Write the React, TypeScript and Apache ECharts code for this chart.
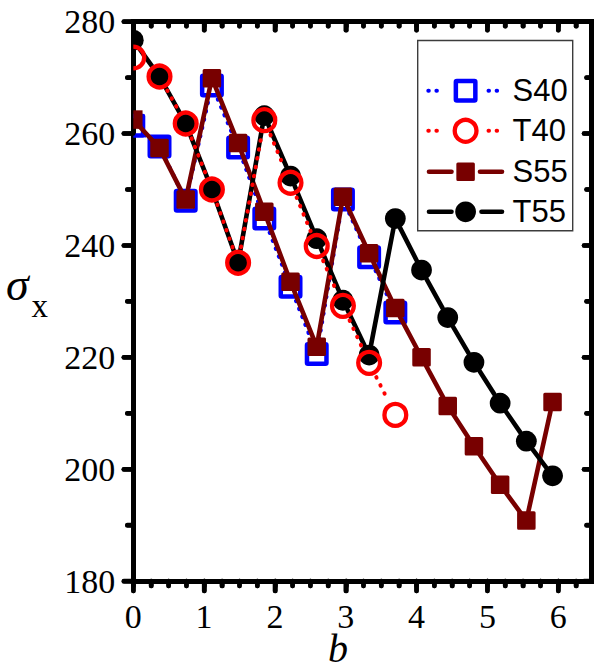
import React, { useEffect, useRef } from 'react';
import * as echarts from 'echarts';

// ---- data ----
const bValues = [0, 0.37, 0.74, 1.11, 1.48, 1.85, 2.22, 2.59, 2.96, 3.33, 3.7, 4.07, 4.44, 4.81, 5.18, 5.55, 5.92];
const s40 = [261.4, 257.7, 248.0, 268.6, 257.5, 244.8, 232.6, 220.6, 248.2, 237.9, 228.0];
const t40 = [273.6, 270.2, 261.8, 250.0, 236.9, 262.4, 251.2, 239.9, 229.2, 219.0, 209.7];
const s55 = [262.5, 257.4, 248.2, 269.9, 258.3, 246.0, 233.5, 221.9, 248.7, 238.6, 228.8, 220.0, 211.3, 204.1, 197.2, 190.8, 212.0];
const t55 = [276.7, 270.2, 261.8, 250.0, 236.9, 263.2, 252.4, 241.2, 230.2, 220.4, 244.8, 235.6, 227.1, 219.1, 211.8, 205.0, 198.8];

// ---- axes / ticks ----
const yMin = 180;
const yMax = 280;
const yStep = 20;
const xMin = 0;
const xMax = 6.47;
const xLabelStep = 1;
const xLabelLast = 6;
const xMinorStep = 0.25;
const xMinorLast = 6.25;
const xMajorTicks = [0, 1, 2, 3, 4, 5, 6];
const xMinorTicks = [0.25, 0.5, 0.75, 1.25, 1.5, 1.75, 2.25, 2.5, 2.75, 3.25, 3.5, 3.75, 4.25, 4.5, 4.75, 5.25, 5.5, 5.75, 6.25];
const yMajorTicks = [180, 200, 220, 240, 260, 280];
const yMinorTicks = [190, 210, 230, 250, 270];

const legendNames = ['S40', 'T40', 'S55', 'T55'];

type Cfg = {
  name: string;
  color: string;
  lineWidth: number;
  dash: number[] | null;
  gap: number;
  symbol: 'rectHollow' | 'rectFilled' | 'circleHollow' | 'circleFilled';
};

const cfgs: Record<string, Cfg> = {
  S40: { name: 'S40', color: '#0000ff', lineWidth: 4, dash: [0.5, 8], gap: 15, symbol: 'rectHollow' },
  S55: { name: 'S55', color: '#780000', lineWidth: 4.6, dash: null, gap: 12, symbol: 'rectFilled' },
  T55: { name: 'T55', color: '#000000', lineWidth: 4.6, dash: null, gap: 13, symbol: 'circleFilled' },
  T40: { name: 'T40', color: '#ff0000', lineWidth: 4, dash: [0.5, 8.5], gap: 16, symbol: 'circleHollow' },
};

function buildItems(ys: number[]) {
  return ys.map((y, i) => {
    const last = i + 1 >= ys.length;
    return [bValues[i], y, last ? bValues[i] : bValues[i + 1], last ? y : ys[i + 1]];
  });
}

// full symbol, or only its right half when it sits on the left frame line
function symbolEl(kind: Cfg['symbol'], color: string, cx: number, cy: number, half = false): any {
  if (kind === 'rectHollow') {
    const s = 19.5;
    if (half) {
      return { type: 'polyline', shape: { points: [[cx, cy - s / 2], [cx + s / 2, cy - s / 2], [cx + s / 2, cy + s / 2], [cx, cy + s / 2]] }, style: { fill: null, stroke: color, lineWidth: 4.5, lineJoin: 'round' } };
    }
    return { type: 'rect', shape: { x: cx - s / 2, y: cy - s / 2, width: s, height: s, r: 1 }, style: { fill: 'none', stroke: color, lineWidth: 4.5, lineJoin: 'round' } };
  }
  if (kind === 'rectFilled') {
    const s = 18.5;
    if (half) {
      return { type: 'rect', shape: { x: cx, y: cy - s / 2, width: s / 2, height: s }, style: { fill: color } };
    }
    return { type: 'rect', shape: { x: cx - s / 2, y: cy - s / 2, width: s, height: s, r: 1.5 }, style: { fill: color } };
  }
  if (kind === 'circleHollow') {
    if (half) {
      return { type: 'arc', shape: { cx, cy, r: 10.9, startAngle: -Math.PI / 2, endAngle: Math.PI / 2, clockwise: true }, style: { fill: null, stroke: color, lineWidth: 4.3 } };
    }
    return { type: 'circle', shape: { cx, cy, r: 10.9 }, style: { fill: 'none', stroke: color, lineWidth: 4.3 } };
  }
  if (half) {
    return { type: 'sector', shape: { cx, cy, r0: 0, r: 10.4, startAngle: -Math.PI / 2, endAngle: Math.PI / 2, clockwise: true }, style: { fill: color } };
  }
  return { type: 'circle', shape: { cx, cy, r: 10.4 }, style: { fill: color } };
}

function makeRender(cfg: Cfg) {
  return (params: any, api: any) => {
    const xv = api.value(0);
    const p0 = api.coord([xv, api.value(1)]);
    const p1 = api.coord([api.value(2), api.value(3)]);
    const children: any[] = [];
    const dx = p1[0] - p0[0];
    const dy = p1[1] - p0[1];
    const d = Math.hypot(dx, dy);
    const g = cfg.dash ? cfg.gap : cfg.gap - cfg.lineWidth / 2;
    if (d > 2 * g + 1) {
      const ux = dx / d;
      const uy = dy / d;
      const style: any = { stroke: cfg.color, lineWidth: cfg.lineWidth, lineCap: 'round', fill: null };
      if (cfg.dash) style.lineDash = cfg.dash;
      children.push({
        type: 'line',
        shape: { x1: p0[0] + ux * g, y1: p0[1] + uy * g, x2: p1[0] - ux * g, y2: p1[1] - uy * g },
        style,
      });
    }
    children.push(symbolEl(cfg.symbol, cfg.color, p0[0], p0[1], xv <= xMin));
    return { type: 'group', children };
  };
}

function seriesFor(cfg: Cfg, ys: number[]) {
  return {
    type: 'custom',
    name: cfg.name,
    xAxisIndex: 0,
    yAxisIndex: 0,
    clip: false,
    dimensions: ['x0', 'y0', 'x1', 'y1'],
    encode: { x: [0, 2], y: [1, 3] },
    data: buildItems(ys),
    renderItem: makeRender(cfg),
  };
}

const legendRowsY = [90.7, 130.8, 171.7, 211.8];

function legendGraphics() {
  const els: any[] = [];
  els.push({
    type: 'rect',
    shape: { x: 417.7, y: 40.5, width: 155, height: 190.3 },
    style: { fill: '#ffffff', stroke: '#3c3c3c', lineWidth: 1.4 },
    z: 10,
  });
  const symX = 465.6;
  legendNames.forEach((nm, i) => {
    const cfg = cfgs[nm];
    const y = legendRowsY[i];
    const lineStyle: any = { stroke: cfg.color, lineWidth: cfg.lineWidth, lineCap: 'round' };
    if (cfg.dash) {
      lineStyle.lineDash = [0.5, 7.6];
      els.push({ type: 'line', shape: { x1: 428.3, y1: y, x2: 444, y2: y }, style: { ...lineStyle }, z: 11 });
      els.push({ type: 'line', shape: { x1: 488.5, y1: y, x2: 497.5, y2: y }, style: { ...lineStyle }, z: 11 });
    } else {
      const rs = nm === 'T55' ? 481.5 : 480;
      els.push({ type: 'line', shape: { x1: 429, y1: y, x2: 451.5, y2: y }, style: { ...lineStyle }, z: 11 });
      els.push({ type: 'line', shape: { x1: rs, y1: y, x2: 502, y2: y }, style: { ...lineStyle }, z: 11 });
    }
    const sym = symbolEl(cfg.symbol, cfg.color, symX, y);
    sym.z = 12;
    els.push(sym);
    els.push({
      type: 'text',
      x: 512.5,
      y,
      z: 12,
      style: { text: nm, fontSize: 31, fontFamily: 'Liberation Sans', fill: '#000', align: 'left', verticalAlign: 'middle' },
    });
  });
  return els;
}

function titleGraphics() {
  return [
    {
      type: 'text', x: 6, y: 284, z: 12,
      style: { text: 'σ', fontSize: 46, fontStyle: 'italic', fontFamily: 'Liberation Serif', fill: '#000', align: 'left', verticalAlign: 'middle' },
    },
    {
      type: 'text', x: 31.5, y: 305.5, z: 12,
      style: { text: 'x', fontSize: 33, fontFamily: 'Liberation Serif', fill: '#000', align: 'left', verticalAlign: 'middle' },
    },
    {
      type: 'text', x: 338, y: 648, z: 12,
      style: { text: 'b', fontSize: 40, fontStyle: 'italic', fontFamily: 'Liberation Serif', fill: '#000', align: 'center', verticalAlign: 'middle' },
    },
  ];
}

// tick marks placed through the chart's own scales (convertToPixel)
function tickGraphics(chart: any) {
  const els: any[] = [];
  const st = () => ({ stroke: '#000000', lineWidth: 4.5, lineCap: 'round' });
  const finder = { xAxisIndex: 0, yAxisIndex: 0 };
  const addX = (vals: number[], lenB: number, lenT: number) => {
    vals.forEach((v) => {
      const pb = chart.convertToPixel(finder, [v, yMin]);
      const pt = chart.convertToPixel(finder, [v, yMax]);
      if (!pb || !pt) return;
      els.push({ type: 'line', z: 20, shape: { x1: pb[0], y1: pb[1], x2: pb[0], y2: pb[1] + lenB }, style: st() });
      els.push({ type: 'line', z: 20, shape: { x1: pt[0], y1: pt[1], x2: pt[0], y2: pt[1] + lenT }, style: st() });
    });
  };
  const addY = (vals: number[], lenL: number, lenR: number) => {
    vals.forEach((v) => {
      const pl = chart.convertToPixel(finder, [xMin, v]);
      const pr = chart.convertToPixel(finder, [xMax, v]);
      if (!pl || !pr) return;
      els.push({ type: 'line', z: 20, shape: { x1: pl[0], y1: pl[1], x2: pl[0] - lenL, y2: pl[1] }, style: st() });
      els.push({ type: 'line', z: 20, shape: { x1: pr[0], y1: pr[1], x2: pr[0] - lenR, y2: pr[1] }, style: st() });
    });
  };
  addX(xMajorTicks, 10, 8.5);
  addX(xMinorTicks, 5, 4.5);
  addY(yMajorTicks, 9.5, 7.5);
  addY(yMinorTicks, 6, 5);
  return els;
}

const axisLineStyle = () => ({ color: '#000000', width: 5, cap: 'square' });
const tickStyle = () => ({ color: '#000000', width: 4.5, cap: 'round' });
const labelFont = () => ({ fontFamily: 'Liberation Serif', fontSize: 34, color: '#000000' });

export default function App() {
  const ref = useRef<HTMLDivElement>(null);
  useEffect(() => {
    if (!ref.current) return;
    const chart = echarts.init(ref.current, undefined, { renderer: 'svg' });
    const left = 133.3;
    const rightEdge = 591.5;
    const top = 21.7;
    const bottom = 88;
    const pxPerUnit = (rightEdge - left) / (xMax - xMin);
    const baseGraphics = [...legendGraphics(), ...titleGraphics()];
    const option: any = {
      animation: false,
      grid: [
        { left, right: 594 - rightEdge, top, bottom },
        { left, width: pxPerUnit * xLabelLast, top, bottom },
        { left, width: pxPerUnit * xMinorLast, top, bottom },
      ],
      xAxis: [
        {
          type: 'value', gridIndex: 0, position: 'bottom', min: xMin, max: xMax,
          splitLine: { show: false },
          axisLine: { show: true, onZero: false, lineStyle: axisLineStyle() },
          axisTick: { show: false },
          axisLabel: { show: false },
        },
        {
          type: 'value', gridIndex: 0, position: 'top', min: xMin, max: xMax,
          splitLine: { show: false },
          axisLine: { show: true, onZero: false, lineStyle: axisLineStyle() },
          axisTick: { show: false },
          axisLabel: { show: false },
        },
        {
          type: 'value', gridIndex: 1, position: 'bottom', min: xMin, max: xLabelLast, interval: xLabelStep,
          splitLine: { show: false },
          axisLine: { show: false, onZero: false },
          axisTick: { show: true, inside: false, length: 10, lineStyle: tickStyle() },
          axisLabel: { show: true, margin: 18, ...labelFont() },
        },
        {
          type: 'value', gridIndex: 1, position: 'top', min: xMin, max: xLabelLast, interval: xLabelStep,
          splitLine: { show: false },
          axisLine: { show: false, onZero: false },
          axisTick: { show: true, inside: true, length: 8.5, lineStyle: tickStyle() },
          axisLabel: { show: false },
        },
        {
          type: 'value', gridIndex: 2, position: 'bottom', min: xMin, max: xMinorLast, interval: xMinorStep,
          splitLine: { show: false },
          axisLine: { show: false, onZero: false },
          axisTick: { show: true, inside: false, length: 5, lineStyle: tickStyle() },
          axisLabel: { show: false },
        },
        {
          type: 'value', gridIndex: 2, position: 'top', min: xMin, max: xMinorLast, interval: xMinorStep,
          splitLine: { show: false },
          axisLine: { show: false, onZero: false },
          axisTick: { show: true, inside: true, length: 4.5, lineStyle: tickStyle() },
          axisLabel: { show: false },
        },
      ],
      yAxis: [
        {
          type: 'value', gridIndex: 0, position: 'left', min: yMin, max: yMax, interval: yStep,
          splitLine: { show: false },
          axisLine: { show: true, onZero: false, lineStyle: axisLineStyle() },
          axisTick: { show: true, inside: false, length: 9.5, lineStyle: tickStyle() },
          minorTick: { show: true, splitNumber: 2, length: 6, lineStyle: tickStyle() },
          axisLabel: { show: true, margin: 18, ...labelFont() },
        },
        {
          type: 'value', gridIndex: 0, position: 'right', min: yMin, max: yMax, interval: yStep,
          splitLine: { show: false },
          axisLine: { show: true, onZero: false, lineStyle: axisLineStyle() },
          axisTick: { show: true, inside: true, length: 7.5, lineStyle: tickStyle() },
          minorTick: { show: true, splitNumber: 2, length: 5, lineStyle: tickStyle() },
          axisLabel: { show: false },
        },
        { type: 'value', gridIndex: 1, min: yMin, max: yMax, show: false },
        { type: 'value', gridIndex: 2, min: yMin, max: yMax, show: false },
      ],
      series: [
        seriesFor(cfgs.S40, s40),
        seriesFor(cfgs.S55, s55),
        seriesFor(cfgs.T55, t55),
        seriesFor(cfgs.T40, t40),
      ],
      graphic: baseGraphics,
    };
    chart.setOption(option);
    try {
      const ticks = tickGraphics(chart);
      chart.setOption({ graphic: [...baseGraphics, ...ticks] });
    } catch (e) {
      // keep the chart even if extra ticks cannot be placed
    }
    return () => {
      chart.dispose();
    };
  }, []);
  return <div ref={ref} style={{ position: 'absolute', left: 0, top: 0, width: 594, height: 669 }} />;
}
